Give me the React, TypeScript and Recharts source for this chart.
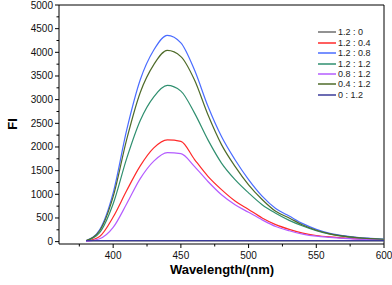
import { LineChart, Line, XAxis, YAxis, Legend, ReferenceLine } from "recharts";

const wavelengths = [380, 390, 400, 410, 420, 430, 440, 450, 460, 470, 480, 490, 500, 510, 520, 530, 540, 550, 560, 570, 580, 590, 600];

const r12_0 = [16, 16, 17, 17, 17, 18, 18, 18, 18, 18, 17, 17, 17, 17, 17, 16, 16, 16, 16, 16, 16, 16, 16];
const r12_04 = [10, 110, 520, 1080, 1600, 1980, 2150, 2120, 1740, 1380, 1100, 860, 680, 500, 360, 260, 180, 130, 100, 80, 60, 50, 40];
const r12_08 = [20, 250, 1030, 2360, 3420, 4050, 4360, 4200, 3630, 2860, 2220, 1730, 1310, 960, 700, 540, 380, 260, 175, 125, 90, 70, 55];
const r12_12 = [15, 190, 800, 1760, 2560, 3060, 3300, 3180, 2720, 2150, 1660, 1310, 1030, 780, 600, 450, 330, 230, 160, 110, 80, 60, 45];
const r08_12 = [5, 60, 300, 800, 1330, 1700, 1880, 1860, 1590, 1270, 990, 780, 620, 460, 320, 230, 160, 115, 90, 70, 55, 45, 35];
const r04_12 = [20, 230, 950, 2160, 3150, 3740, 4040, 3910, 3420, 2680, 2050, 1590, 1200, 890, 640, 500, 350, 240, 165, 115, 85, 65, 50];
const r0_12 = [20, 20, 21, 21, 21, 22, 22, 22, 22, 21, 21, 21, 21, 21, 20, 20, 20, 20, 20, 20, 20, 20, 20];

const xTicks = [375, 400, 425, 450, 475, 500, 525, 550, 575, 600];
const yTicks = [0, 250, 500, 750, 1000, 1250, 1500, 1750, 2000, 2250, 2500, 2750, 3000, 3250, 3500, 3750, 4000, 4250, 4500, 4750, 5000];

const series = [
  { key: "a", name: "1.2 : 0", values: r12_0, color: "#6e6e6e" },
  { key: "b", name: "1.2 : 0.4", values: r12_04, color: "#ff2a2a" },
  { key: "c", name: "1.2 : 0.8", values: r12_08, color: "#4a6cff" },
  { key: "d", name: "1.2 : 1.2", values: r12_12, color: "#2f8f6f" },
  { key: "e", name: "0.8 : 1.2", values: r08_12, color: "#b45cff" },
  { key: "f", name: "0.4 : 1.2", values: r04_12, color: "#4f6b2a" },
  { key: "g", name: "0 : 1.2", values: r0_12, color: "#3b3b9a" },
];

const data = wavelengths.map((w, i) => {
  const row: Record<string, number> = { w };
  series.forEach((s) => (row[s.key] = s.values[i]));
  return row;
});

const FONT = "'Liberation Sans', Arial, sans-serif";

const XTick = (props: any) => {
  const { x, y, payload } = props;
  const major = payload.value % 50 === 0;
  return (
    <g>
      <line x1={x} x2={x} y1={y} y2={y + (major ? 4 : 2.5)} stroke="#000" />
      {major && (
        <text x={x} y={y + 15} textAnchor="middle" fontSize={10} fontFamily={FONT} fill="#111">
          {payload.value}
        </text>
      )}
    </g>
  );
};

const YTick = (props: any) => {
  const { x, y, payload } = props;
  const major = payload.value % 500 === 0;
  return (
    <g>
      <line x1={x} x2={x - (major ? 4 : 2.5)} y1={y} y2={y} stroke="#000" />
      {major && (
        <text x={x - 6} y={y + 3.5} textAnchor="end" fontSize={10} fontFamily={FONT} fill="#111">
          {payload.value}
        </text>
      )}
    </g>
  );
};

const renderLegend = () => (
  <div style={{ fontFamily: FONT, fontSize: 9, color: "#222" }}>
    {series.map((s) => (
      <div key={s.key} style={{ display: "flex", alignItems: "center", height: 10.45 }}>
        <svg width={18} height={4} style={{ marginRight: 2 }}>
          <line x1={0} x2={18} y1={2} y2={2} stroke={s.color} strokeWidth={1.5} />
        </svg>
        <span>{s.name}</span>
      </div>
    ))}
  </div>
);

export default function App() {
  return (
    <div style={{ position: "absolute", left: 0, top: 0, background: "#fff" }}>
      <LineChart width={392} height={285} data={data} margin={{ top: 5, right: 8, left: 0, bottom: 1 }}>
        <XAxis
          dataKey="w"
          type="number"
          domain={[360, 600]}
          ticks={xTicks}
          interval={0}
          tick={<XTick />}
          tickSize={0}
          tickMargin={0}
          tickLine={false}
          height={40}
          axisLine={{ stroke: "#000" }}
        />
        <YAxis
          type="number"
          domain={[-50, 5000]}
          ticks={yTicks}
          interval={0}
          tick={<YTick />}
          tickSize={0}
          tickMargin={0}
          tickLine={false}
          width={59}
          axisLine={{ stroke: "#000" }}
        />
        <ReferenceLine y={5000} stroke="#000" strokeWidth={1} />
        <ReferenceLine x={600} stroke="#000" strokeWidth={1} />
        {series.map((s) => (
          <Line
            key={s.key}
            dataKey={s.key}
            name={s.name}
            type="monotone"
            stroke={s.color}
            strokeWidth={1.2}
            dot={false}
            isAnimationActive={false}
          />
        ))}
        <Legend
          layout="vertical"
          align="center"
          verticalAlign="middle"
          content={renderLegend}
          wrapperStyle={{ left: 318, top: 27, width: 70 }}
        />
        <text x={222} y={274} textAnchor="middle" fontSize={13} fontWeight="bold" fontFamily={FONT} fill="#000">
          Wavelength/(nm)
        </text>
        <text x={12} y={124} transform="rotate(-90, 12, 124)" textAnchor="middle" dominantBaseline="central" fontSize={13} fontWeight="bold" fontFamily={FONT} fill="#000">
          FI
        </text>
      </LineChart>
    </div>
  );
}
